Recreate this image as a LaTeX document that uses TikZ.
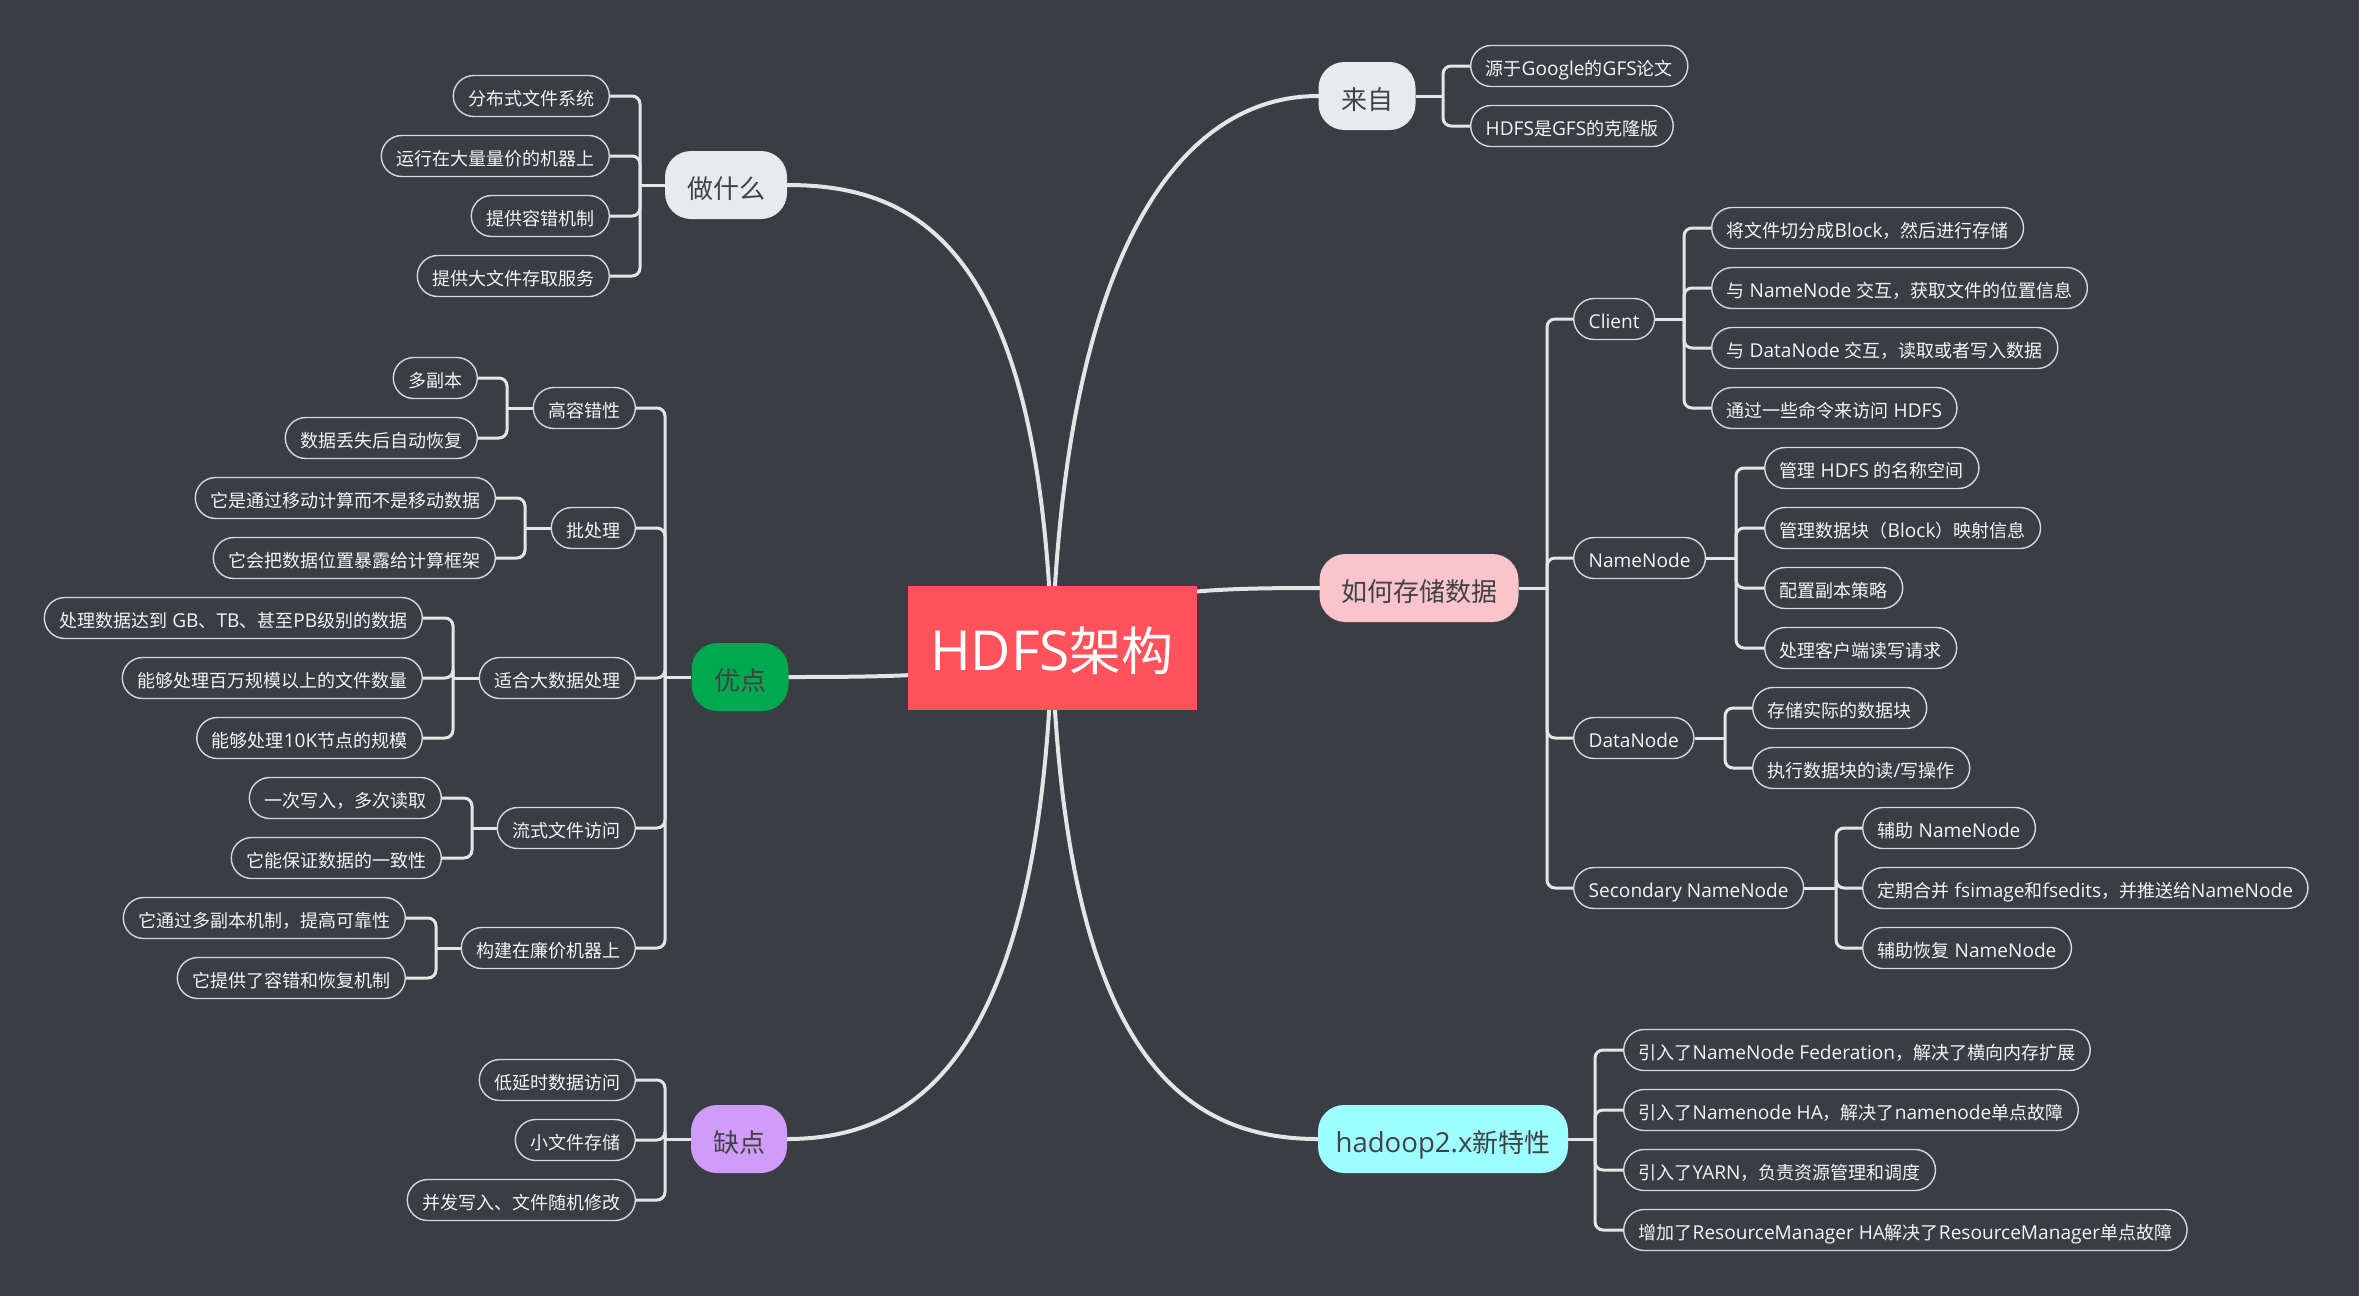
\documentclass[tikz,border=0pt]{standalone}
\usepackage{fontspec}
\setmainfont{Open Sans}[Scale=1.06]
\newfontfamily\cjkf{Noto Sans CJK SC}
\newfontfamily\latf{Open Sans}[Scale=1.06]
\XeTeXinterchartokenstate=1
\newcount\mycharcnt
\mycharcnt="3000
\loop
  \XeTeXcharclass\mycharcnt=7
  \ifnum\mycharcnt<"9FFF \advance\mycharcnt by 1
\repeat
\mycharcnt="FF00
\loop
  \XeTeXcharclass\mycharcnt=7
  \ifnum\mycharcnt<"FFEF \advance\mycharcnt by 1
\repeat
\XeTeXinterchartoks 0 7 = {\cjkf}
\XeTeXinterchartoks 4095 7 = {\cjkf}
\XeTeXinterchartoks 7 0 = {\latf}
\XeTeXinterchartoks 7 4095 = {\latf}
\usetikzlibrary{backgrounds}
\definecolor{bg}{HTML}{3A3D43}
\definecolor{linec}{HTML}{E4E5E7}
\definecolor{leafline}{HTML}{D6D7D9}
\definecolor{leaftext}{HTML}{F4F4F4}
\definecolor{darktext}{HTML}{404244}
\definecolor{rootc}{HTML}{FF525B}
\definecolor{grayc}{HTML}{E9EAEC}
\definecolor{pinkc}{HTML}{FBC4CD}
\definecolor{greenc}{HTML}{00A84F}
\definecolor{purplec}{HTML}{D09CFA}
\definecolor{cyanc}{HTML}{9EFDFF}
\tikzset{
  leaf/.style={draw=leafline, fill=bg, line width=1.4pt, rounded corners=20.5pt,
    minimum height=41pt, inner xsep=15pt, inner ysep=0pt, text=leaftext,
    text height=19pt, text depth=0pt,
    font=\fontsize{18}{20}\selectfont},
  lvl/.style={rounded corners=26pt, minimum height=68pt, inner sep=0pt,
    text height=26pt, text depth=0pt,
    text=darktext, font=\fontsize{26}{30}\selectfont},
  rootbox/.style={fill=rootc, minimum width=289pt, minimum height=124pt,
    text height=46pt, text depth=1pt,
    inner sep=0pt, text=white, font=\fontsize{52}{60}\selectfont},
  br/.style={draw=linec, line width=3pt, rounded corners=8pt},
  mainline/.style={draw=linec, line width=4pt, line cap=round},
  lft/.style={leaf, anchor=east},
  rgt/.style={leaf, anchor=west},
}
\begin{document}
\begin{tikzpicture}[x=1pt, y=-1pt]
\useasboundingbox (0,0) rectangle (2374,1304);
\begin{pgfonlayer}{background}
  \fill[white] (0,0) rectangle (2374,1304);
  \fill[bg] (0,0) rectangle (2359,1296);
\end{pgfonlayer}

% root
\node[rootbox] (R) at (1052,648) {HDFS架构};

% level 1
\node[lvl, fill=grayc, minimum width=122pt] (Z) at (726,185) {做什么};
\node[lvl, fill=grayc, minimum width=97pt] (L) at (1367,96) {来自};
\node[lvl, fill=pinkc, minimum width=199pt] (S) at (1419,588) {如何存储数据};
\node[lvl, fill=greenc, minimum width=97pt] (U) at (740,677) {优点};
\node[lvl, fill=purplec, minimum width=96pt] (Q) at (739,1139) {缺点};
\node[lvl, fill=cyanc, minimum width=250pt] (H) at (1443,1139) {hadoop2.x新特性};

% 做什么
\node[lft] (z1) at (610,96) {分布式文件系统};
\node[lft] (z2) at (610,156) {运行在大量量价的机器上};
\node[lft] (z3) at (610,216) {提供容错机制};
\node[lft] (z4) at (610,276) {提供大文件存取服务};
\coordinate (jZ) at (640,185);

% 来自
\node[rgt] (l1) at (1470,66) {源于Google的GFS论文};
\node[rgt] (l2) at (1470,126) {HDFS是GFS的克隆版};
\coordinate (jL) at (1443,96);

% 如何存储数据
\node[rgt] (s1) at (1573,319) {Client};
\node[rgt] (s2) at (1573,558) {NameNode};
\node[rgt] (s3) at (1573,738) {DataNode};
\node[rgt] (s4) at (1573,888) {Secondary NameNode};
\coordinate (jS) at (1547,588);

\node[rgt] (c1) at (1711,228) {将文件切分成Block，然后进行存储};
\node[rgt] (c2) at (1711,288) {与 NameNode 交互，获取文件的位置信息};
\node[rgt] (c3) at (1711,348) {与 DataNode 交互，读取或者写入数据};
\node[rgt] (c4) at (1711,408) {通过一些命令来访问 HDFS};
\coordinate (jC) at (1684,319);

\node[rgt] (n1) at (1764,468) {管理 HDFS 的名称空间};
\node[rgt] (n2) at (1764,528) {管理数据块（Block）映射信息};
\node[rgt] (n3) at (1764,588) {配置副本策略};
\node[rgt] (n4) at (1764,648) {处理客户端读写请求};
\coordinate (jN) at (1736,558);

\node[rgt] (d1) at (1752,708) {存储实际的数据块};
\node[rgt] (d2) at (1752,768) {执行数据块的读/写操作};
\coordinate (jD) at (1725,738);

\node[rgt] (e1) at (1862,828) {辅助 NameNode};
\node[rgt] (e2) at (1862,888) {定期合并 fsimage和fsedits，并推送给NameNode};
\node[rgt] (e3) at (1862,948) {辅助恢复 NameNode};
\coordinate (jE) at (1836,888);

% 优点
\node[lft] (u1) at (636,408) {高容错性};
\node[lft] (u2) at (636,528) {批处理};
\node[lft] (u3) at (636,678) {适合大数据处理};
\node[lft] (u4) at (636,828) {流式文件访问};
\node[lft] (u5) at (636,948) {构建在廉价机器上};
\coordinate (jU) at (665,677);

\node[lft] (a1) at (478,378) {多副本};
\node[lft] (a2) at (478,438) {数据丢失后自动恢复};
\coordinate (jA) at (507,408);

\node[lft] (b1) at (496,498) {它是通过移动计算而不是移动数据};
\node[lft] (b2) at (496,558) {它会把数据位置暴露给计算框架};
\coordinate (jB) at (525,528);

\node[lft] (f1) at (423,618) {处理数据达到 GB、TB、甚至PB级别的数据};
\node[lft] (f2) at (423,678) {能够处理百万规模以上的文件数量};
\node[lft] (f3) at (423,738) {能够处理10K节点的规模};
\coordinate (jF) at (453,678);

\node[lft] (g1) at (442,798) {一次写入，多次读取};
\node[lft] (g2) at (442,858) {它能保证数据的一致性};
\coordinate (jG) at (472,828);

\node[lft] (h1) at (406,918) {它通过多副本机制，提高可靠性};
\node[lft] (h2) at (406,978) {它提供了容错和恢复机制};
\coordinate (jK) at (436,948);

% 缺点
\node[lft] (q1) at (636,1080) {低延时数据访问};
\node[lft] (q2) at (636,1140) {小文件存储};
\node[lft] (q3) at (636,1200) {并发写入、文件随机修改};
\coordinate (jQ) at (665,1139);

% hadoop
\node[rgt] (k1) at (1623,1050) {引入了NameNode Federation，解决了横向内存扩展};
\node[rgt] (k2) at (1623,1110) {引入了Namenode HA，解决了namenode单点故障};
\node[rgt] (k3) at (1623,1170) {引入了YARN，负责资源管理和调度};
\node[rgt] (k4) at (1623,1230) {增加了ResourceManager HA解决了ResourceManager单点故障};
\coordinate (jH) at (1595,1139);

\begin{pgfonlayer}{background}
  % main curves
  \draw[mainline] (R.center) .. controls (1040,250) and (920,185) .. (Z.east);
  \draw[mainline] (R.center) .. controls (1065,250) and (1180,96) .. (L.west);
  \draw[mainline] (R.center) .. controls (1100,590) and (1200,588) .. (S.west);
  \draw[mainline] (R.center) .. controls (1000,676) and (900,677) .. (U.east);
  \draw[mainline] (R.center) .. controls (1040,1050) and (920,1139) .. (Q.east);
  \draw[mainline] (R.center) .. controls (1065,1050) and (1180,1139) .. (H.west);

  % brackets
  \draw[br] (Z.west) -- (jZ);
  \foreach \c in {z1,z2,z3,z4} \draw[br] (jZ) |- (\c.east);
  \draw[br] (L.east) -- (jL);
  \foreach \c in {l1,l2} \draw[br] (jL) |- (\c.west);
  \draw[br] (S.east) -- (jS);
  \foreach \c in {s1,s2,s3,s4} \draw[br] (jS) |- (\c.west);
  \draw[br] (s1.east) -- (jC);
  \foreach \c in {c1,c2,c3,c4} \draw[br] (jC) |- (\c.west);
  \draw[br] (s2.east) -- (jN);
  \foreach \c in {n1,n2,n3,n4} \draw[br] (jN) |- (\c.west);
  \draw[br] (s3.east) -- (jD);
  \foreach \c in {d1,d2} \draw[br] (jD) |- (\c.west);
  \draw[br] (s4.east) -- (jE);
  \foreach \c in {e1,e2,e3} \draw[br] (jE) |- (\c.west);
  \draw[br] (U.west) -- (jU);
  \foreach \c in {u1,u2,u3,u4,u5} \draw[br] (jU) |- (\c.east);
  \draw[br] (u1.west) -- (jA);
  \foreach \c in {a1,a2} \draw[br] (jA) |- (\c.east);
  \draw[br] (u2.west) -- (jB);
  \foreach \c in {b1,b2} \draw[br] (jB) |- (\c.east);
  \draw[br] (u3.west) -- (jF);
  \foreach \c in {f1,f2,f3} \draw[br] (jF) |- (\c.east);
  \draw[br] (u4.west) -- (jG);
  \foreach \c in {g1,g2} \draw[br] (jG) |- (\c.east);
  \draw[br] (u5.west) -- (jK);
  \foreach \c in {h1,h2} \draw[br] (jK) |- (\c.east);
  \draw[br] (Q.west) -- (jQ);
  \foreach \c in {q1,q2,q3} \draw[br] (jQ) |- (\c.east);
  \draw[br] (H.east) -- (jH);
  \foreach \c in {k1,k2,k3,k4} \draw[br] (jH) |- (\c.west);
\end{pgfonlayer}
\end{tikzpicture}
\end{document}
